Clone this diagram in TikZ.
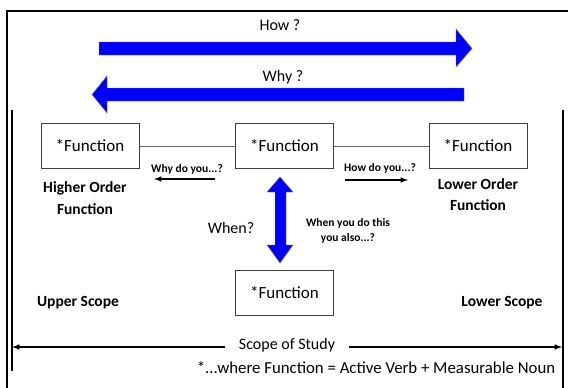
\documentclass[tikz,border=0pt]{standalone}
\usepackage{fontspec}
\setmainfont{Carlito}
\usetikzlibrary{arrows}

\begin{document}
\begin{tikzpicture}[x=1pt,y=-1pt,>=latex,semithick]
    \tikzstyle{func}=[draw=black!75,thin,minimum width=98pt,minimum height=45pt,inner sep=0pt,font=\fontsize{17}{17}\selectfont]
    \tikzstyle{lbl}=[inner sep=0pt,font=\fontsize{16}{21}\selectfont,align=center]
    \tikzstyle{hint}=[inner sep=0pt,font=\bfseries\fontsize{11.5}{15}\selectfont,align=center]
    \tikzstyle{bluearrow}=[fill=blue,draw=black!55,thin]
    \tikzstyle{pointer}=[->,line width=1.5pt]

    \useasboundingbox (0,0) rectangle (568,388);

    % frame and scope lines
    \draw[line width=2pt] (7,389) -- (7,11) -- (569,11);
    \draw[line width=1.6pt] (12,110) -- (12,371);
    \draw[line width=1.6pt] (563,110) -- (563,389);

    % How / Why
    \node[lbl] (how) at (280,25) {How ?};
    \node[lbl] (why) at (283,77) {Why ?};
    \path[bluearrow] (99,42) -- (456,42) -- (456,29) -- (472,48.5) -- (456,67)
        -- (456,55) -- (99,55) -- cycle;
    \path[bluearrow] (464,88) -- (107,88) -- (107,76) -- (92,94.5) -- (107,113)
        -- (107,101) -- (464,101) -- cycle;

    \node[func] (left)   at (90,146)    {*Function};
    \node[func] (mid)    at (284.5,146) {*Function};
    \node[func] (right)  at (478,146)   {*Function};
    \node[func] (bottom) at (284.5,292.5) {*Function};

    \draw[black!60,thin] (left) -- (mid) (mid) -- (right);

    \node[lbl,font=\bfseries\fontsize{15.5}{22}\selectfont] (higher) at (85,198) {Higher Order\\Function};
    \node[lbl,font=\bfseries\fontsize{15.5}{21}\selectfont] (lower) at (478,195) {Lower Order\\Function};

    \node[hint] (whydo) at (187,169) {Why do you...?};
    \node[hint] (howdo) at (380,168) {How do you...?};
    \coordinate (whyfrom) at (215,179);
    \coordinate (whyto)   at (154,179);
    \coordinate (howfrom) at (345,180);
    \coordinate (howto)   at (408,180);
    \draw[pointer] (whyfrom) -- (whyto);
    \draw[pointer] (howfrom) -- (howto);

    % When
    \path[bluearrow] (280,177) -- (293,192) -- (286,192) -- (286,245) -- (293,245)
        -- (280,263) -- (267,245) -- (275,245) -- (275,192) -- (267,192) -- cycle;
    \node[lbl] (when) at (231,228) {When?};
    \node[hint] (also) at (348,231) {When you do this\\you also...?};

    \node[lbl,font=\bfseries\fontsize{15.5}{18}\selectfont] (upper) at (78,303) {Upper Scope};
    \node[lbl,font=\bfseries\fontsize{15.5}{18}\selectfont] (lowersc) at (502,303) {Lower Scope};

    % scope of study
    \node[lbl,inner xsep=14pt] (scope) at (287,345) {Scope of Study};
    \coordinate (sleft)  at (12,347);
    \coordinate (sright) at (562,347);
    \draw[pointer] (scope.west |- sleft) -- (sleft);
    \draw[pointer] (scope.east |- sright) -- (sright);

    \node[lbl,font=\fontsize{16.8}{21}\selectfont] (note) at (376,368) {*...where Function = Active Verb + Measurable Noun};
\end{tikzpicture}
\end{document}
